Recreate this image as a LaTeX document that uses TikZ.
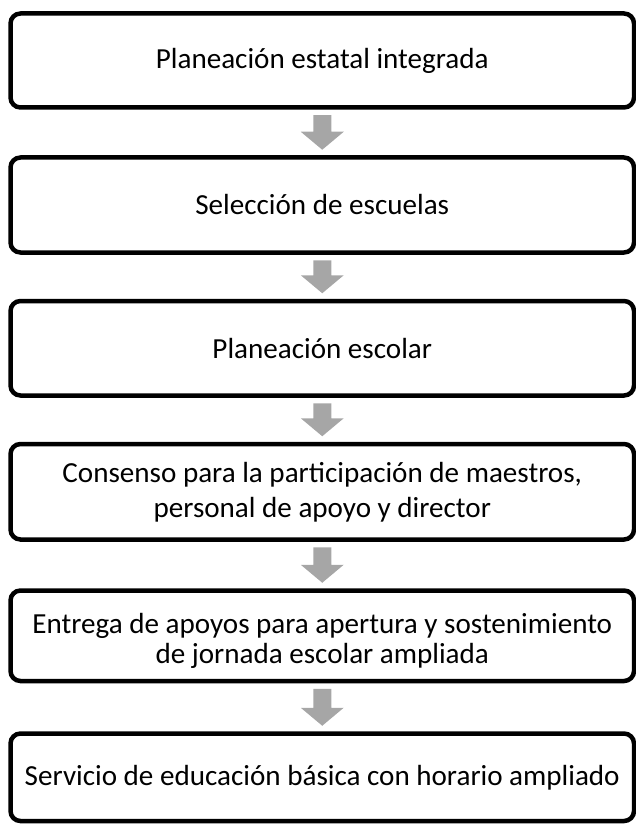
\documentclass[tikz,border=0pt]{standalone}
\usepackage{fontspec}
\setmainfont{Carlito}
\usetikzlibrary{calc}
\definecolor{arrowgray}{HTML}{A6A6A6}
\tikzset{
  box/.style={draw=black, line width=4.5pt, rounded corners=10pt, fill=white,
    minimum width=623.5pt, align=center, inner sep=0pt,
    font=\fontsize{29.1pt}{35pt}\selectfont},
  boxtext/.style={align=center, inner sep=0pt,
    font=\fontsize{29.1pt}{30pt}\selectfont},
}
\newcommand\fatarrow[2]{%
  \fill[arrowgray] let \p1=($(#1.south)+(0,-5.5)$), \p2=($(#2.north)+(0,5.5)$) in
    ($(\x1,\y1)+(-9pt,0)$) -- ($(\x1,\y1)+(9pt,0)$) -- ($(\x1,\y2)+(9pt,18pt)$) --
    ($(\x1,\y2)+(21.5pt,18pt)$) -- (\x1,\y2) -- ($(\x1,\y2)+(-21.5pt,18pt)$) --
    ($(\x1,\y2)+(-9pt,18pt)$) -- cycle;}
\begin{document}
\begin{tikzpicture}[x=1pt,y=1pt]
\useasboundingbox (0,0) rectangle (636,-826);
\node[box, minimum height=94pt] (b1) at (322.25,-60.5) {Planeación estatal integrada};
\node[box, minimum height=95pt] (b2) at (322.25,-205) {Selección de escuelas};
\node[box, minimum height=94.5pt] (b3) at (322.25,-348.25) {Planeación escolar};
\node[box, minimum height=95.5pt] (b4) at (322.25,-491.75) {Consenso para la participación de maestros,\\personal de apoyo y director};
\node[box, minimum height=90.5pt] (b5) at (322.25,-635.75) {};
\node[boxtext] (t5) at ($(b5.center)+(0,-5)$) {Entrega de apoyos para apertura y sostenimiento\\de jornada escolar ampliada};
\node[box, minimum height=87.5pt] (b6) at (322.25,-777.25) {Servicio de educación básica con horario ampliado};
\fatarrow{b1}{b2}
\fatarrow{b2}{b3}
\fatarrow{b3}{b4}
\fatarrow{b4}{b5}
\fatarrow{b5}{b6}
\end{tikzpicture}
\end{document}
